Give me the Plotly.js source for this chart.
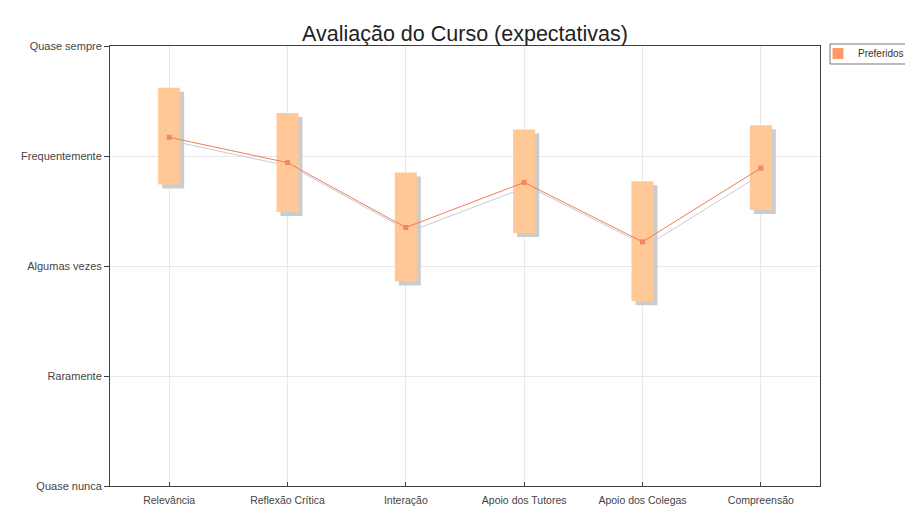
<!DOCTYPE html>
<html>
<head>
<meta charset="utf-8">
<script src="https://cdn.plot.ly/plotly-3.0.1.min.js"></script>
<style>html,body{margin:0;padding:0;background:#fff;}#chart{width:905px;height:510px;}</style>
</head>
<body>
<div id="chart"></div>
<script>
// Data
const categories = ["Relevância", "Reflexão Crítica", "Interação", "Apoio dos Tutores", "Apoio dos Colegas", "Compreensão"];
const levels = ["Quase nunca", "Raramente", "Algumas vezes", "Frequentemente", "Quase sempre"];
const rangeTop = [3.62, 3.39, 2.85, 3.24, 2.77, 3.28];
const rangeBottom = [2.74, 2.49, 1.86, 2.30, 1.68, 2.51];
const meanValues = [3.17, 2.94, 2.35, 2.76, 2.22, 2.89];
const seriesName = "Preferidos";

// Layout geometry
const W = 905, H = 510;
const margin = {l: 110, r: 85, t: 46, b: 24, autoexpand: false};
const plotW = W - margin.l - margin.r;
const plotH = H - margin.t - margin.b;
const xRange = [-0.5, categories.length - 0.5];
const yRange = [0, levels.length - 1];
const shadowPx = 4;
const dx = shadowPx * (xRange[1] - xRange[0]) / plotW;
const dy = shadowPx * (yRange[1] - yRange[0]) / plotH;
const px2x = p => (p - margin.l) / plotW;
const py2y = p => (H - margin.b - p) / plotH;

const xIdx = categories.map((c, i) => i);
const heights = rangeTop.map((t, i) => t - rangeBottom[i]);
const barW = 0.186;

const font = "Liberation Sans, Arial, sans-serif";
const axisCol = "#404040";

const traces = [
  // base subplot anchor (invisible)
  {type: "scatter", mode: "markers", x: xIdx, y: meanValues,
   marker: {opacity: 0, size: 1}, showlegend: false, hoverinfo: "skip"},
  // shadows
  {type: "bar", x: xIdx, y: heights, base: rangeBottom, width: barW,
   marker: {color: "#cccccc", line: {width: 0}}, xaxis: "x2", yaxis: "y2",
   showlegend: false, hoverinfo: "skip"},
  {type: "scatter", mode: "lines", x: xIdx, y: meanValues,
   line: {color: "#c4ccd8", width: 1}, xaxis: "x2", yaxis: "y2",
   showlegend: false, hoverinfo: "skip"},
  // main
  {type: "bar", x: xIdx, y: heights, base: rangeBottom, width: barW,
   marker: {color: "#ffc896", line: {width: 0}}, xaxis: "x3", yaxis: "y3",
   showlegend: false, name: seriesName},
  {type: "scatter", mode: "lines+markers", x: xIdx, y: meanValues,
   line: {color: "#f07c58", width: 1},
   marker: {symbol: "square", size: 5, color: "#f5875f"},
   xaxis: "x3", yaxis: "y3", showlegend: false, name: seriesName},
  // legend entry
  {type: "scatter", mode: "markers", x: [null], y: [null], name: seriesName,
   marker: {symbol: "square", size: 11, color: "#ff9966"},
   xaxis: "x3", yaxis: "y3", showlegend: true, hoverinfo: "skip"}
];

const hidden = {visible: false, fixedrange: true};

const layout = {
  width: W, height: H,
  margin: margin,
  paper_bgcolor: "#ffffff",
  plot_bgcolor: "#ffffff",
  font: {family: font, size: 10, color: "#444"},
  title: {
    text: "Avaliação do Curso (expectativas)",
    font: {family: font, size: 21.5, color: "#222"},
    x: (margin.l + plotW / 2) / W, xanchor: "center", xref: "container",
    y: 1 - 33 / H, yanchor: "middle", yref: "container"
  },
  showlegend: true,
  legend: {
    x: px2x(818), y: py2y(39), xanchor: "left", yanchor: "top",
    borderwidth: 0, bgcolor: "rgba(0,0,0,0)",
    font: {family: font, size: 10, color: "#333"},
    itemsizing: "trace"
  },
  shapes: [{
    type: "rect", xref: "paper", yref: "paper",
    x0: px2x(830), x1: px2x(912), y0: py2y(64), y1: py2y(44),
    line: {color: "#777", width: 1}, fillcolor: "rgba(0,0,0,0)", layer: "above"
  }],
  xaxis: {
    range: xRange, tickvals: xIdx, ticktext: categories,
    showgrid: true, gridcolor: "#e8e8e8", gridwidth: 1,
    showline: true, linecolor: axisCol, linewidth: 1, mirror: true,
    ticks: "inside", ticklen: 4, tickcolor: axisCol,
    ticklabelstandoff: 4,
    zeroline: false, fixedrange: true,
    tickfont: {family: font, size: 10.5, color: "#444"}
  },
  yaxis: {
    range: yRange, tickvals: levels.map((l, i) => i), ticktext: levels,
    showgrid: true, gridcolor: "#e8e8e8", gridwidth: 1,
    showline: true, linecolor: axisCol, linewidth: 1, mirror: true,
    ticks: "outside", ticklen: 5, tickcolor: axisCol,
    zeroline: false, fixedrange: true,
    tickfont: {family: font, size: 11, color: "#444"}
  },
  xaxis2: Object.assign({overlaying: "x", anchor: "y2", range: [xRange[0] - dx, xRange[1] - dx]}, hidden),
  yaxis2: Object.assign({overlaying: "y", anchor: "x2", range: [yRange[0] + dy, yRange[1] + dy]}, hidden),
  xaxis3: Object.assign({overlaying: "x", anchor: "y3", range: xRange.slice()}, hidden),
  yaxis3: Object.assign({overlaying: "y", anchor: "x3", range: yRange.slice()}, hidden)
};

Plotly.newPlot("chart", traces, layout, {displayModeBar: false, staticPlot: true});
</script>
</body>
</html>
